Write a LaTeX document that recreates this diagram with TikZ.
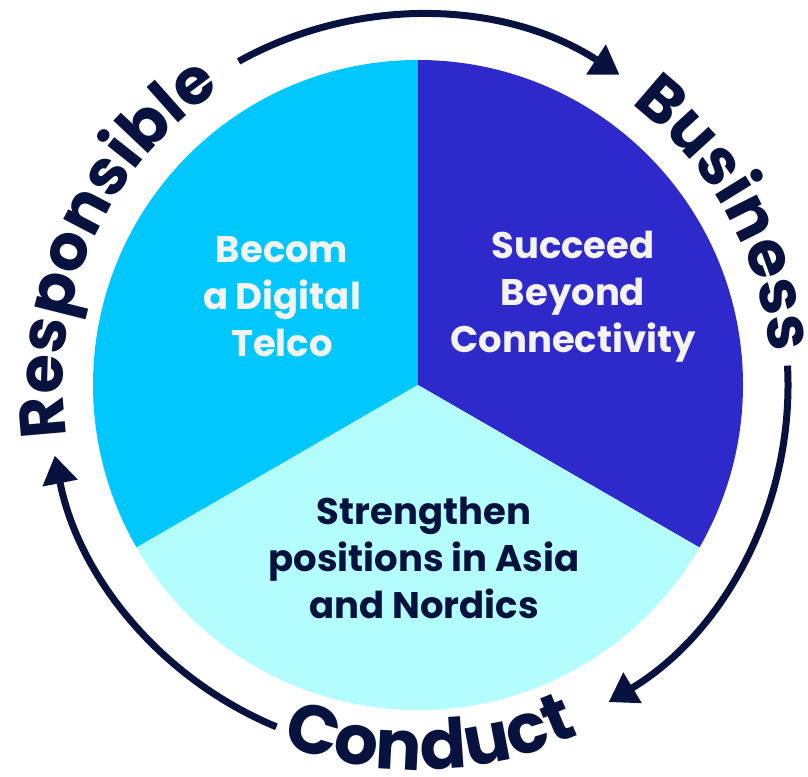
\documentclass[tikz,border=0pt]{standalone}
\usepackage{fontspec}
\setmainfont{Poppins}
\usetikzlibrary{decorations.text,arrows.meta}
\definecolor{navy}{HTML}{08123F}
\definecolor{skyblue}{HTML}{00C8FF}
\definecolor{indigo}{HTML}{2E29CB}
\definecolor{paleblue}{HTML}{B3FDFF}
\definecolor{offwhite}{HTML}{F5F3EF}
\newcommand{\ringfont}{\fontsize{64}{64}\selectfont\bfseries}
\newcommand{\bottomringfont}{\fontsize{69}{69}\selectfont\bfseries}
\newcommand{\pillarfont}{\fontsize{37}{47}\selectfont\bfseries}
\begin{document}
\begin{tikzpicture}[x=1pt,y=1pt,>={Triangle[length=28pt,width=34pt]}]
\tikzstyle{pillar}=[align=center,font=\pillarfont]
\tikzstyle{ring}=[line width=7pt,draw=navy]
\useasboundingbox (0,0) rectangle (808,776);
\coordinate (c) at (418,391);
% three sectors
\fill[skyblue] (c) -- ++(90:325) arc (90:210:325) -- cycle;
\fill[indigo] (c) -- ++(90:325) arc (90:-30:325) -- cycle;
\fill[paleblue] (c) -- ++(210:325) arc (210:330:325) -- cycle;
\node[pillar,text=offwhite](digital) at (282,479) {Becom\\a Digital\\Telco};
\node[pillar,text=offwhite](beyond) at (573,479) {Succeed\\Beyond\\Connectivity};
\node[pillar,text=navy](asia) at (424,218) {Strengthen\\positions in Asia\\and Nordics};
% ring arrows
\coordinate (top start) at ([shift={(119:370)}]c);
\coordinate (right start) at ([shift={(3:370)}]c);
\coordinate (left start) at ([shift={(247.5:370)}]c);
\draw[ring,->] (top start) arc (119:57:370);
\draw[ring,->] (right start) arc (3:-59:370);
\draw[ring,->] (left start) arc (247.5:191:370);
% ring words
\path[decorate,decoration={text along path,text align=center,
  text={|\ringfont\color{navy}|Responsible}}] ([shift={(200:355)}]c) arc (200:112:355);
\path[decorate,decoration={text along path,text align=center,
  text={|\ringfont\color{navy}|Business}}] ([shift={(70:353)}]c) arc (70:-12:353);
\path[decorate,decoration={text along path,text align=center,
  text={|\bottomringfont\color{navy}|Conduct}}] ([shift={(230:385)}]c) arc (230:314:385);
\end{tikzpicture}
\end{document}
